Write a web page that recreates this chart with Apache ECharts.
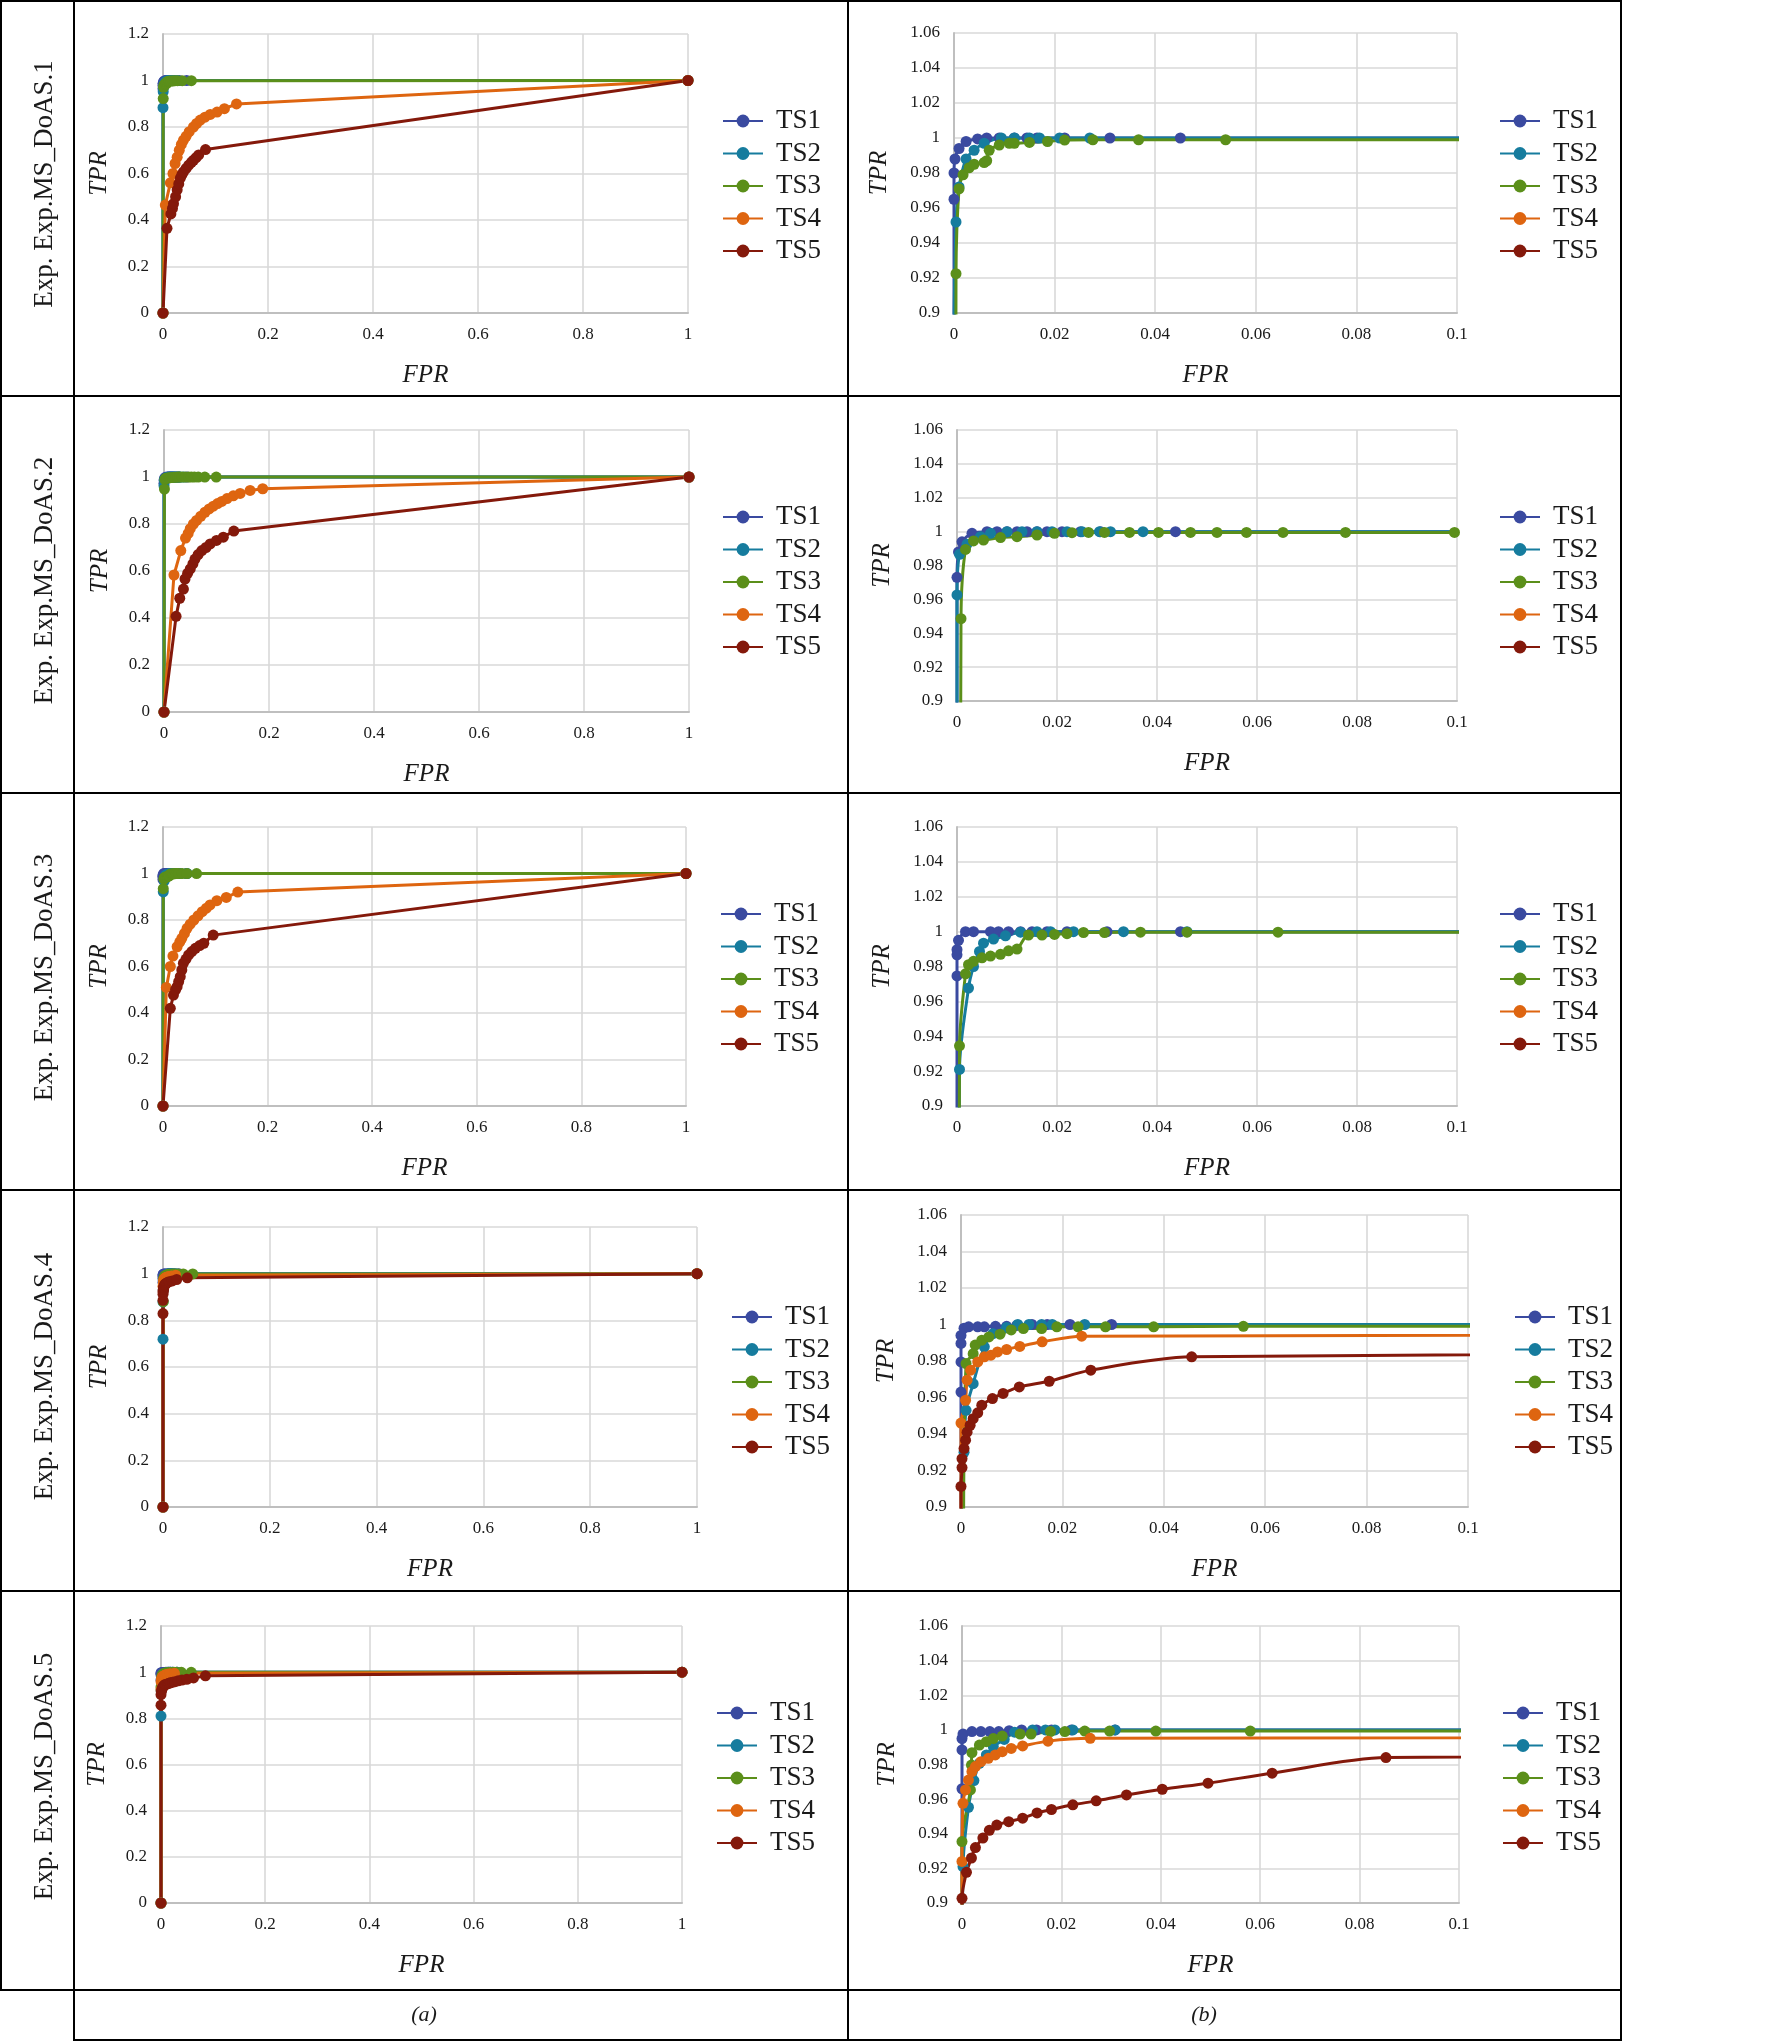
<!DOCTYPE html>
<html>
<head>
<meta charset="utf-8">
<script src="https://cdn.jsdelivr.net/npm/echarts@6/dist/echarts.min.js"></script>
<style>
  html, body { margin: 0; padding: 0; background: #fff; }
  #main { width: 1784px; height: 2041px; }
</style>
</head>
<body>
<div id="main"></div>
<script>
// series names and row labels
const seriesNames = ['TS1', 'TS2', 'TS3', 'TS4', 'TS5'];
const rowLabels = ['Exp. Exp.MS_DoAS.1', 'Exp. Exp.MS_DoAS.2', 'Exp. Exp.MS_DoAS.3', 'Exp. Exp.MS_DoAS.4', 'Exp. Exp.MS_DoAS.5'];
const colLabels = ['(a)', '(b)'];

// tick setup: full view (a) and zoomed view (b)
const fullX = { min: 0, max: 1, interval: 0.2 };
const fullY = { min: 0, max: 1.2, interval: 0.2 };
const zoomX = { min: 0, max: 0.1, interval: 0.02 };
const zoomY = { min: 0.9, max: 1.06, interval: 0.02 };

// ROC points [FPR, TPR], DoAS.1
const d1_ts1 = [[0,0],[0,0.965],[0,0.98],[0.0002,0.988],[0.001,0.994],[0.0024,0.998],[0.0047,0.9995],[0.0065,1],[0.009,1],[0.012,1],[0.0145,1],[0.0165,1],[0.022,1],[0.031,1],[0.045,1],[1,1]];
const d1_ts2 = [[0,0],[0,0.883],[0.0004,0.952],[0.001,0.972],[0.0024,0.988],[0.004,0.993],[0.006,0.997],[0.0094,1],[0.012,1],[0.015,1],[0.017,1],[0.021,1],[0.027,1],[1,1]];
const d1_ts3 = [[0,0],[0.0004,0.9225],[0.001,0.971],[0.0018,0.979],[0.003,0.983],[0.004,0.985],[0.006,0.986],[0.0065,0.987],[0.007,0.993],[0.009,0.996],[0.011,0.997],[0.012,0.997],[0.015,0.9975],[0.0186,0.998],[0.022,0.9988],[0.0276,0.999],[0.0367,0.999],[0.054,0.999],[1,1]];
const d1_ts4 = [[0,0],[0.0044,0.464],[0.014,0.56],[0.019,0.6],[0.023,0.643],[0.027,0.67],[0.031,0.7],[0.035,0.725],[0.039,0.743],[0.044,0.76],[0.05,0.78],[0.058,0.8],[0.064,0.815],[0.071,0.83],[0.08,0.842],[0.09,0.854],[0.103,0.864],[0.117,0.879],[0.14,0.899],[1,1]];
const d1_ts5 = [[0,0],[0.0076,0.364],[0.015,0.426],[0.018,0.45],[0.02,0.47],[0.024,0.5],[0.027,0.53],[0.03,0.555],[0.033,0.58],[0.036,0.595],[0.039,0.607],[0.044,0.622],[0.049,0.636],[0.054,0.648],[0.058,0.657],[0.063,0.668],[0.068,0.68],[0.081,0.703],[1,1]];

// DoAS.2
const d2_ts1 = [[0,0],[0,0.973],[0.0003,0.988],[0.001,0.994],[0.003,0.999],[0.006,1],[0.008,1],[0.01,1],[0.012,1],[0.014,1],[0.016,1],[0.018,1],[0.021,1],[0.0247,1],[0.0287,1],[0.0437,1],[1,1]];
const d2_ts2 = [[0,0],[0,0.9626],[0.0005,0.9866],[0.002,0.9925],[0.0047,0.997],[0.0067,0.999],[0.01,1],[0.013,1],[0.016,1],[0.019,1],[0.022,1],[0.025,1],[0.0285,1],[0.0307,1],[0.0372,1],[1,1]];
const d2_ts3 = [[0,0],[0.0008,0.9486],[0.0017,0.9895],[0.0033,0.9945],[0.0053,0.995],[0.0087,0.9965],[0.012,0.997],[0.016,0.998],[0.0195,0.999],[0.023,0.9994],[0.0263,0.9995],[0.0295,0.9995],[0.0345,0.9995],[0.0403,0.9995],[0.0467,0.9995],[0.052,0.9995],[0.0579,0.9995],[0.0652,0.9995],[0.0777,0.9995],[0.0995,0.9995],[1,1]];
const d2_ts4 = [[0,0],[0.019,0.583],[0.032,0.687],[0.041,0.74],[0.046,0.76],[0.05,0.78],[0.056,0.8],[0.062,0.815],[0.07,0.833],[0.078,0.85],[0.086,0.864],[0.094,0.876],[0.102,0.887],[0.11,0.896],[0.12,0.908],[0.132,0.92],[0.145,0.93],[0.164,0.943],[0.188,0.95],[1,1]];
const d2_ts5 = [[0,0],[0.023,0.407],[0.03,0.484],[0.037,0.523],[0.04,0.566],[0.045,0.59],[0.05,0.609],[0.055,0.63],[0.059,0.651],[0.065,0.67],[0.072,0.687],[0.08,0.7],[0.088,0.715],[0.1,0.73],[0.113,0.744],[0.133,0.77],[1,1]];

// DoAS.3
const d3_ts1 = [[0,0],[0,0.9746],[0,0.9867],[0,0.9896],[0.0003,0.995],[0.0017,1],[0.0033,1],[0.0067,1],[0.0083,1],[0.0103,1],[0.0127,1],[0.015,1],[0.018,1],[0.022,1],[0.03,1],[0.0447,1],[1,1]];
const d3_ts2 = [[0,0],[0.0005,0.921],[0.0023,0.9676],[0.0033,0.98],[0.0045,0.9886],[0.0053,0.9934],[0.0073,0.9957],[0.0097,0.9976],[0.0127,0.9997],[0.016,1],[0.0187,1],[0.0233,1],[0.0333,1],[0.046,1],[1,1]];
const d3_ts3 = [[0,0],[0.0005,0.9345],[0.0017,0.9758],[0.0023,0.981],[0.0033,0.983],[0.005,0.985],[0.0067,0.986],[0.0087,0.987],[0.0103,0.989],[0.012,0.99],[0.0143,0.998],[0.017,0.998],[0.0195,0.9984],[0.022,0.9988],[0.0253,0.9995],[0.0295,0.9995],[0.0367,0.9997],[0.046,0.9997],[0.0642,0.9997],[1,1]];
const d3_ts4 = [[0,0],[0.0064,0.51],[0.014,0.6],[0.019,0.645],[0.027,0.685],[0.032,0.705],[0.036,0.721],[0.041,0.742],[0.046,0.764],[0.052,0.782],[0.059,0.8],[0.067,0.818],[0.075,0.836],[0.083,0.851],[0.09,0.865],[0.103,0.883],[0.121,0.897],[0.143,0.92],[1,1]];
const d3_ts5 = [[0,0],[0.014,0.42],[0.02,0.477],[0.024,0.5],[0.027,0.513],[0.03,0.535],[0.033,0.556],[0.036,0.585],[0.039,0.614],[0.044,0.632],[0.049,0.65],[0.055,0.664],[0.062,0.678],[0.07,0.69],[0.078,0.7],[0.096,0.735],[1,1]];

// DoAS.4
const d4_ts1 = [[0,0],[0,0.963],[0,0.9795],[0,0.9896],[0,0.994],[0.0006,0.998],[0.0015,0.9987],[0.0033,0.9987],[0.0046,0.9987],[0.0068,0.999],[0.009,0.999],[0.011,0.9995],[0.014,1],[0.017,1],[0.0215,1],[0.0297,1],[1,1]];
const d4_ts2 = [[0,0],[0,0.719],[0,0.879],[0.0006,0.93],[0.001,0.953],[0.0024,0.9676],[0.0046,0.9878],[0.0063,0.995],[0.009,0.9984],[0.0112,1],[0.0134,1],[0.0159,1],[0.018,1],[0.0244,1],[1,1]];
const d4_ts3 = [[0,0],[0.0005,0.88],[0.001,0.9786],[0.0024,0.984],[0.0028,0.9887],[0.0041,0.9914],[0.0055,0.9932],[0.0077,0.9947],[0.0099,0.997],[0.0123,0.9978],[0.0159,0.9978],[0.0189,0.9987],[0.0231,0.9987],[0.0285,0.9987],[0.038,0.9987],[0.0557,0.999],[1,1]];
const d4_ts4 = [[0,0],[0,0.946],[0.0009,0.9585],[0.0012,0.9695],[0.0019,0.975],[0.0033,0.9795],[0.0046,0.9823],[0.0059,0.9832],[0.0072,0.985],[0.009,0.9863],[0.0116,0.988],[0.016,0.9905],[0.0238,0.9936],[1,1]];
const d4_ts5 = [[0,0],[0,0.829],[0,0.886],[0,0.9113],[0.0002,0.9216],[0.0002,0.9265],[0.0006,0.932],[0.0009,0.9366],[0.0012,0.941],[0.0018,0.9448],[0.0024,0.9484],[0.0033,0.9516],[0.0041,0.9558],[0.0062,0.9594],[0.0083,0.9622],[0.0115,0.9658],[0.0174,0.9689],[0.0256,0.975],[0.0455,0.9823],[1,1]];

// DoAS.5
const d5_ts1 = [[0,0],[0,0.966],[0,0.9884],[0,0.995],[0.0002,0.9976],[0.002,0.999],[0.0038,0.999],[0.0056,0.999],[0.0074,0.999],[0.0095,0.9995],[0.012,1],[0.015,1],[0.018,1],[0.022,1],[0.0308,1],[1,1]];
const d5_ts2 = [[0,0],[0,0.81],[0.0002,0.921],[0.0013,0.9553],[0.0024,0.9707],[0.0035,0.9807],[0.0049,0.9855],[0.0063,0.9903],[0.0085,0.9945],[0.0106,0.9987],[0.0142,1],[0.0168,1],[0.0187,1],[0.0223,1],[0.0308,1],[1,1]];
const d5_ts3 = [[0,0],[0,0.9355],[0.0017,0.9653],[0.0019,0.9797],[0.002,0.9868],[0.0035,0.9912],[0.0049,0.9932],[0.0063,0.995],[0.0081,0.9964],[0.0117,0.9976],[0.0139,0.9976],[0.0178,0.999],[0.0207,0.999],[0.0247,0.9993],[0.0297,0.9993],[0.039,0.9993],[0.058,0.9993],[1,1]];
const d5_ts4 = [[0,0],[0,0.924],[0.0002,0.9576],[0.0007,0.9653],[0.0013,0.971],[0.002,0.9759],[0.0027,0.9788],[0.0038,0.9816],[0.0053,0.9836],[0.0067,0.9855],[0.0081,0.9874],[0.0099,0.9893],[0.0122,0.9907],[0.0173,0.9935],[0.0258,0.9951],[1,1]];
const d5_ts5 = [[0,0],[0,0.857],[0,0.9027],[0.0009,0.9177],[0.0019,0.926],[0.0027,0.932],[0.0042,0.9375],[0.0055,0.942],[0.007,0.945],[0.0094,0.947],[0.0122,0.949],[0.0151,0.952],[0.018,0.954],[0.0223,0.9567],[0.027,0.959],[0.0331,0.9624],[0.0403,0.9657],[0.0495,0.9692],[0.0624,0.975],[0.0853,0.984],[1,1]];

const rows = [
  [d1_ts1, d1_ts2, d1_ts3, d1_ts4, d1_ts5],
  [d2_ts1, d2_ts2, d2_ts3, d2_ts4, d2_ts5],
  [d3_ts1, d3_ts2, d3_ts3, d3_ts4, d3_ts5],
  [d4_ts1, d4_ts2, d4_ts3, d4_ts4, d4_ts5],
  [d5_ts1, d5_ts2, d5_ts3, d5_ts4, d5_ts5],
];

const colors = ['#3a4aa0', '#167c9e', '#5b8f1a', '#de6510', '#84190b'];
const FONT = '"Liberation Serif", "Times New Roman", serif';

// plot boxes [left, top, right, bottom] in page pixels
const leftBoxes = [[163,34,688,313],[164,430,689,712],[163,827,686,1106],[163,1227,697,1507],[161,1626,682,1903]];
const rightBoxes = [[954,33,1457,313],[957,430,1457,701],[957,827,1457,1106],[961,1215,1468,1507],[962,1626,1459,1903]];
const legendX = [[717,1494],[717,1494],[715,1494],[726,1509],[711,1497]];
const legendY = [116,512,909,1312,1708];

// table
const rowLines = [0, 396, 793, 1190, 1591, 1990];
const colLines = [74, 848, 1621];

const myChart = echarts.init(document.getElementById('main'), null, { renderer: 'canvas' });

const grid = [], xAxis = [], yAxis = [], series = [], legend = [];

function axisCommon() {
  return {
    type: 'value',
    axisLine: { show: true, lineStyle: { color: '#bfbfbf', width: 2 } },
    axisTick: { show: false },
    splitLine: { show: true, lineStyle: { color: '#d9d9d9', width: 1.6 } },
    axisLabel: { fontFamily: FONT, fontSize: 17, color: '#1a1a1a' },
    nameLocation: 'middle',
    nameTextStyle: { fontFamily: FONT, fontSize: 25, fontStyle: 'italic', color: '#1a1a1a' },
  };
}

function addPanel(r, side) {
  const box = side === 0 ? leftBoxes[r] : rightBoxes[r];
  const idx = grid.length;
  grid.push({ left: box[0], top: box[1], width: box[2] - box[0], height: box[3] - box[1] });
  const xs = side === 0 ? fullX : zoomX;
  const ys = side === 0 ? fullY : zoomY;
  xAxis.push(Object.assign(axisCommon(), {
    gridIndex: idx, min: xs.min, max: xs.max, interval: xs.interval,
    name: 'FPR', nameGap: 50,
  }));
  xAxis[idx].axisLabel.margin = 13;
  yAxis.push(Object.assign(axisCommon(), {
    gridIndex: idx, min: ys.min, max: ys.max, interval: ys.interval,
    name: 'TPR', nameGap: side === 0 ? 51 : 62,
  }));
  yAxis[idx].axisLabel.margin = 14;

  rows[r].forEach((pts, k) => {
    series.push({
      name: seriesNames[k],
      type: 'line',
      xAxisIndex: idx,
      yAxisIndex: idx,
      data: pts,
      symbol: 'circle',
      symbolSize: 11,
      showSymbol: true,
      smooth: side === 1 ? 0.3 : false,
      clip: true,
      animation: false,
      color: colors[k],
      lineStyle: { width: 3, color: colors[k] },
      itemStyle: { color: colors[k] },
    });
  });

  legend.push({
    data: seriesNames,
    orient: 'vertical',
    left: legendX[r][side],
    top: legendY[r] - 13.5,
    itemWidth: 40,
    itemHeight: 16,
    itemGap: 5.5,
    selectedMode: false,
    textStyle: { fontFamily: FONT, fontSize: 27, color: '#1a1a1a', lineHeight: 27, padding: [0, 0, 0, 8] },
  });
}

for (let r = 0; r < 5; r++) {
  addPanel(r, 0);
  addPanel(r, 1);
}

// table borders and labels
const graphic = [];
const lineStyle = { stroke: '#000', lineWidth: 2 };
rowLines.forEach((y, i) => {
  const yy = i === 0 ? 1 : y;
  graphic.push({ type: 'line', shape: { x1: 0, y1: yy, x2: colLines[2], y2: yy }, style: lineStyle, silent: true });
});
graphic.push({ type: 'line', shape: { x1: colLines[0], y1: 2040, x2: colLines[2], y2: 2040 }, style: lineStyle, silent: true });
graphic.push({ type: 'line', shape: { x1: 1, y1: 0, x2: 1, y2: rowLines[5] }, style: lineStyle, silent: true });
colLines.forEach(x => {
  graphic.push({ type: 'line', shape: { x1: x, y1: 0, x2: x, y2: 2041 }, style: lineStyle, silent: true });
});
rowLabels.forEach((t, i) => {
  const cy = (rowLines[i] + rowLines[i + 1]) / 2 - 14;
  graphic.push({
    type: 'text', x: 45, y: cy, rotation: Math.PI / 2, silent: true,
    style: { text: t, font: '27px ' + FONT, fill: '#1a1a1a', align: 'center', verticalAlign: 'middle' },
  });
});
colLabels.forEach((t, i) => {
  graphic.push({
    type: 'text', x: i === 0 ? 424 : 1204, y: 2015, silent: true,
    style: { text: t, font: 'italic 22px ' + FONT, fill: '#1a1a1a', align: 'center', verticalAlign: 'middle' },
  });
});

myChart.setOption({
  backgroundColor: '#fff',
  animation: false,
  grid,
  xAxis,
  yAxis,
  legend,
  series,
  graphic,
});
</script>
</body>
</html>
